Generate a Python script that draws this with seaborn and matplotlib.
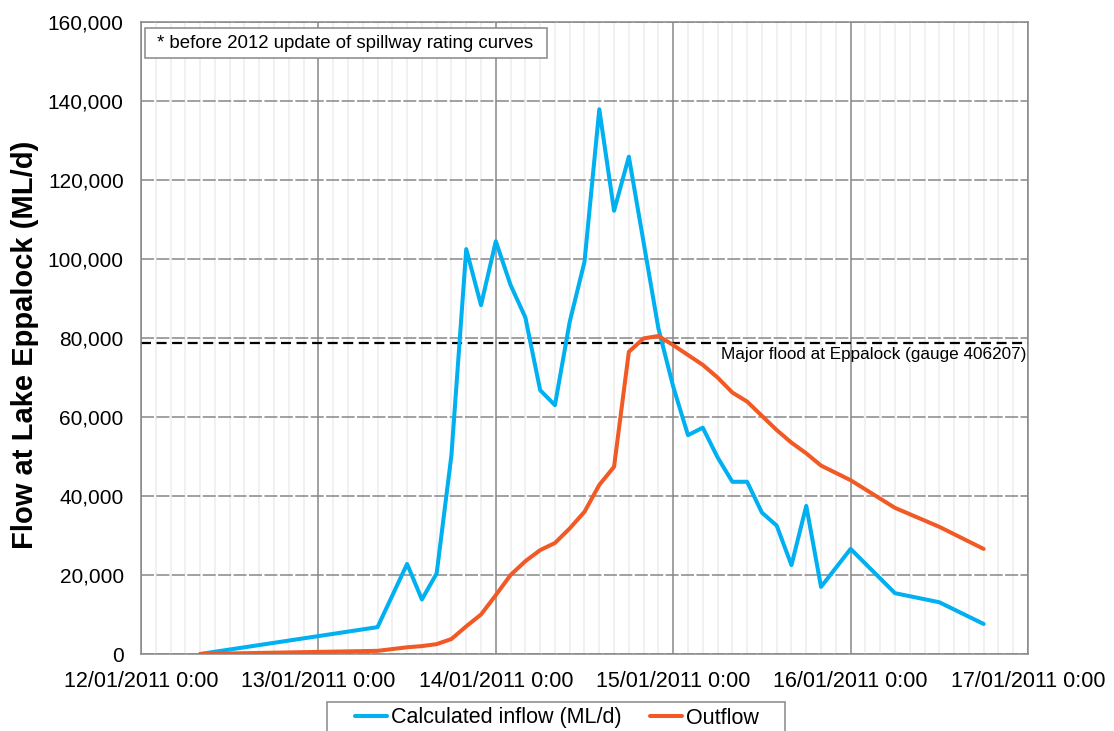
import matplotlib
matplotlib.use("Agg")
import matplotlib.pyplot as plt
import matplotlib.dates as mdates
from matplotlib.patches import Rectangle
from matplotlib.ticker import FuncFormatter, MultipleLocator
import pandas as pd
import seaborn as sns

# ---- data -------------------------------------------------------------
inflow_time = [
    "2011-01-12 08:00", "2011-01-13 08:00", "2011-01-13 12:00", "2011-01-13 14:00",
    "2011-01-13 16:00", "2011-01-13 18:00", "2011-01-13 20:00", "2011-01-13 22:00",
    "2011-01-14 00:00", "2011-01-14 02:00", "2011-01-14 04:00", "2011-01-14 06:00",
    "2011-01-14 08:00", "2011-01-14 10:00", "2011-01-14 12:00", "2011-01-14 14:00",
    "2011-01-14 16:00", "2011-01-14 18:00", "2011-01-14 22:00", "2011-01-15 00:00",
    "2011-01-15 02:00", "2011-01-15 04:00", "2011-01-15 06:00", "2011-01-15 08:00",
    "2011-01-15 10:00", "2011-01-15 12:00", "2011-01-15 14:00", "2011-01-15 16:00",
    "2011-01-15 18:00", "2011-01-15 20:00", "2011-01-16 00:00", "2011-01-16 06:00",
    "2011-01-16 12:00", "2011-01-16 18:00",
]
inflow_flow = [
    0, 6800, 22800, 13800,
    20400, 50400, 102500, 88300,
    104500, 93400, 85200, 66800,
    63000, 84100, 99300, 137900,
    112200, 125900, 82400, 67700,
    55400, 57300, 49800, 43600,
    43600, 35800, 32500, 22500,
    37500, 17000, 26600, 15400,
    13100, 7600,
]

outflow_time = [
    "2011-01-12 08:00", "2011-01-13 08:00", "2011-01-13 12:00", "2011-01-13 14:00",
    "2011-01-13 16:00", "2011-01-13 18:00", "2011-01-13 20:00", "2011-01-13 22:00",
    "2011-01-14 00:00", "2011-01-14 02:00", "2011-01-14 04:00", "2011-01-14 06:00",
    "2011-01-14 08:00", "2011-01-14 10:00", "2011-01-14 12:00", "2011-01-14 14:00",
    "2011-01-14 16:00", "2011-01-14 18:00", "2011-01-14 20:00", "2011-01-14 22:00",
    "2011-01-15 00:00", "2011-01-15 02:00", "2011-01-15 04:00", "2011-01-15 06:00",
    "2011-01-15 08:00", "2011-01-15 10:00", "2011-01-15 12:00", "2011-01-15 14:00",
    "2011-01-15 16:00", "2011-01-15 18:00", "2011-01-15 20:00", "2011-01-16 00:00",
    "2011-01-16 06:00", "2011-01-16 12:00", "2011-01-16 18:00",
]
outflow_flow = [
    0, 800, 1700, 2000,
    2500, 3800, 7000, 10000,
    14900, 20000, 23500, 26300,
    28100, 31800, 36000, 42800,
    47400, 76500, 79900, 80500,
    78200, 75700, 73200, 70000,
    66200, 63900, 60300, 56700,
    53500, 50800, 47700, 44000,
    37000, 32200, 26600,
]

series_names = ["Calculated inflow (ML/d)", "Outflow"]
series_colors = ["#00B0F0", "#F15A24"]

major_flood_level = 78700
major_flood_label = "Major flood at Eppalock (gauge 406207)"
note_text = "* before 2012 update of spillway rating curves"
y_label = "Flow at Lake Eppalock (ML/d)"
x_start, x_end = "2011-01-12 00:00", "2011-01-17 00:00"

# ---- frame --------------------------------------------------------------
df = pd.concat([
    pd.DataFrame({"time": pd.to_datetime(inflow_time), "flow": inflow_flow,
                  "series": series_names[0]}),
    pd.DataFrame({"time": pd.to_datetime(outflow_time), "flow": outflow_flow,
                  "series": series_names[1]}),
], ignore_index=True)

sns.set_style("white")
plt.rcParams["font.family"] = ["Liberation Sans", "DejaVu Sans"]
plt.rcParams["text.color"] = "black"
plt.rcParams["axes.labelcolor"] = "black"

GRID = "#878787"

fig = plt.figure(figsize=(11.14, 7.31), dpi=100)
ax = fig.add_axes([141 / 1114, 1 - 654 / 731, 887 / 1114, 632 / 731])

sns.lineplot(data=df, x="time", y="flow", hue="series", hue_order=series_names,
             palette=dict(zip(series_names, series_colors)), linewidth=2.9,
             legend=False, ax=ax, zorder=3)
for ln in ax.lines:
    ln.set_solid_joinstyle("round")
    ln.set_solid_capstyle("round")

ax.axhline(major_flood_level, color="black", lw=1.6, ls=(0, (4.5, 2.5)), zorder=2.5)
ax.annotate(major_flood_label, xy=(1, major_flood_level),
            xycoords=ax.get_yaxis_transform(), xytext=(-1, -3),
            textcoords="offset points", ha="right", va="top", fontsize=12.3,
            color="black")

# axes limits and ticks
ax.set_xlim(pd.Timestamp(x_start), pd.Timestamp(x_end))
ax.set_ylim(0, 160000)
ax.yaxis.set_major_locator(MultipleLocator(20000))
ax.yaxis.set_major_formatter(FuncFormatter(lambda v, p: f"{int(v):,}"))
ax.xaxis.set_major_locator(mdates.DayLocator())
ax.xaxis.set_minor_locator(mdates.HourLocator(byhour=range(0, 24, 2)))


def fmt_date(v, pos):
    d = mdates.num2date(v)
    return f"{d:%d/%m/%Y} {d.hour}:{d:%M}"


ax.xaxis.set_major_formatter(FuncFormatter(fmt_date))

ax.set_axisbelow(True)
ax.grid(True, which="minor", axis="x", color="#EDEDED", lw=1.1)
ax.grid(True, which="major", axis="x", color=GRID, lw=1.1)
ax.grid(True, which="major", axis="y", color=GRID, lw=1.1, ls=(0, (8.5, 1.6)))

for sp in ax.spines.values():
    sp.set_color(GRID)
    sp.set_linewidth(1.1)

ax.tick_params(axis="y", which="major", direction="inout", length=7, width=1.1,
               color=GRID, pad=9, labelsize=15, labelcolor="black")
ax.tick_params(axis="x", which="major", direction="out", length=4, width=1.1,
               color=GRID, pad=8, labelsize=15.5, labelcolor="black")
ax.tick_params(axis="x", which="minor", length=0)

ax.set_xlabel("")
ax.set_ylabel(y_label, fontsize=21, fontweight="bold", color="black")
ax.yaxis.set_label_coords(-0.115, 0.49)

# note box in the top-left corner
ax.add_patch(Rectangle((4 / 887, (654 - 58) / 632), 402 / 887, 30 / 632,
                       transform=ax.transAxes, facecolor="white",
                       edgecolor=GRID, lw=1.1, zorder=4))
ax.text(15.7 / 887, (654 - 43.5) / 632, note_text, transform=ax.transAxes,
        ha="left", va="center", fontsize=13.4, color="black", zorder=5)

# legend below the plot
fig.patches.append(Rectangle((327 / 1114, -0.05), 458 / 1114, 0.05 + (731 - 702) / 731,
                             transform=fig.transFigure, facecolor="white",
                             edgecolor=GRID, lw=1.1))
leg = fig.legend(ax.lines[:2], series_names, ncol=2, loc="center",
                 bbox_to_anchor=(557 / 1114, 1 - 718 / 731), frameon=False,
                 fontsize=15.5, handlelength=1.5, handletextpad=0.2,
                 columnspacing=1.3)
for t in leg.get_texts():
    t.set_color("black")

fig.savefig("out.png", dpi=100)
